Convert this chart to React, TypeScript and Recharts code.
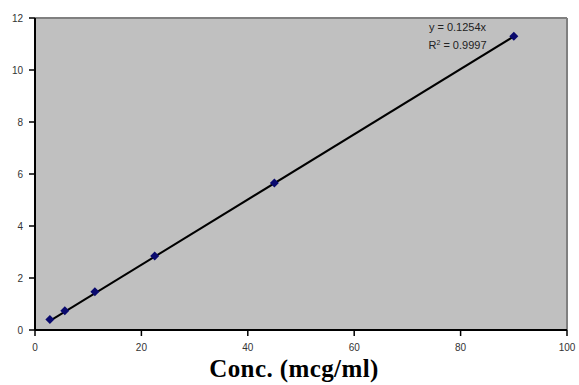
import React from "react";
import {
  CartesianGrid,
  ComposedChart,
  ReferenceLine,
  Scatter,
  XAxis,
  YAxis,
} from "recharts";

// calibration points (conc in mcg/ml, response)
const conc = [2.8, 5.6, 11.25, 22.5, 45, 90];
const response = [0.4, 0.74, 1.47, 2.85, 5.65, 11.3];

// trendline end points, y = 0.1254x
const trendX = [2.8, 90];
const trendY = [0.35, 11.29];

const xTicks = [0, 20, 40, 60, 80, 100];
const yTicks = [0, 2, 4, 6, 8, 10, 12];

const points = conc.map((x, i) => ({ x, y: response[i] }));
const trend = trendX.map((x, i) => ({ x, y: trendY[i] }));

const tickStyle = { fontSize: 10, fill: "#333", fontFamily: "Arial, Liberation Sans, sans-serif" };

function Diamond(props: any) {
  const { cx, cy } = props;
  const r = 4.5;
  return (
    <polygon
      points={`${cx},${cy - r} ${cx + r},${cy} ${cx},${cy + r} ${cx - r},${cy}`}
      fill="#0a0a6e"
    />
  );
}

export default function App() {
  return (
    <div style={{ position: "absolute", left: 0, top: 0, width: 579, height: 385, background: "#fff" }}>
      <ComposedChart
        width={579}
        height={385}
        margin={{ top: 18, right: 12, bottom: 0, left: 0 }}
      >
        <CartesianGrid fill="#c0c0c0" horizontal={false} vertical={false} />
        <XAxis
          type="number"
          dataKey="x"
          domain={[0, 100]}
          ticks={xTicks}
          height={55}
          tick={tickStyle}
          tickMargin={8}
          axisLine={{ stroke: "#000", strokeWidth: 2 }}
          tickLine={{ stroke: "#000", strokeWidth: 1.5 }}
          label={{
            value: "Conc. (mcg/ml)",
            position: "insideBottom",
            offset: 8,
            dx: -7,
            style: {
              fontFamily: "Liberation Serif, Times New Roman, serif",
              fontWeight: "bold",
              fontSize: 25,
              letterSpacing: 0.4,
              fill: "#000",
            },
          }}
        />
        <YAxis
          type="number"
          dataKey="y"
          domain={[0, 12]}
          ticks={yTicks}
          width={35}
          tick={tickStyle}
          tickMargin={6}
          axisLine={{ stroke: "#000", strokeWidth: 2 }}
          tickLine={{ stroke: "#000", strokeWidth: 1.5 }}
        />
        <ReferenceLine y={12} stroke="#808080" strokeWidth={2} />
        <ReferenceLine x={100} stroke="#808080" strokeWidth={2} />
        <Scatter
          data={trend}
          line={{ stroke: "#000", strokeWidth: 2 }}
          shape={() => null}
          isAnimationActive={false}
        />
        <Scatter data={points} shape={<Diamond />} isAnimationActive={false} />
      </ComposedChart>
      <div
        style={{
          position: "absolute",
          left: 400,
          width: 115,
          top: 18,
          textAlign: "center",
          fontFamily: "Arial, Liberation Sans, sans-serif",
          fontSize: 11,
          color: "#222",
          lineHeight: "18px",
        }}
      >
        <div>y = 0.1254x</div>
        <div>
          R<sup style={{ fontSize: 7, verticalAlign: "4px", lineHeight: 0 }}>2</sup> = 0.9997
        </div>
      </div>
    </div>
  );
}
